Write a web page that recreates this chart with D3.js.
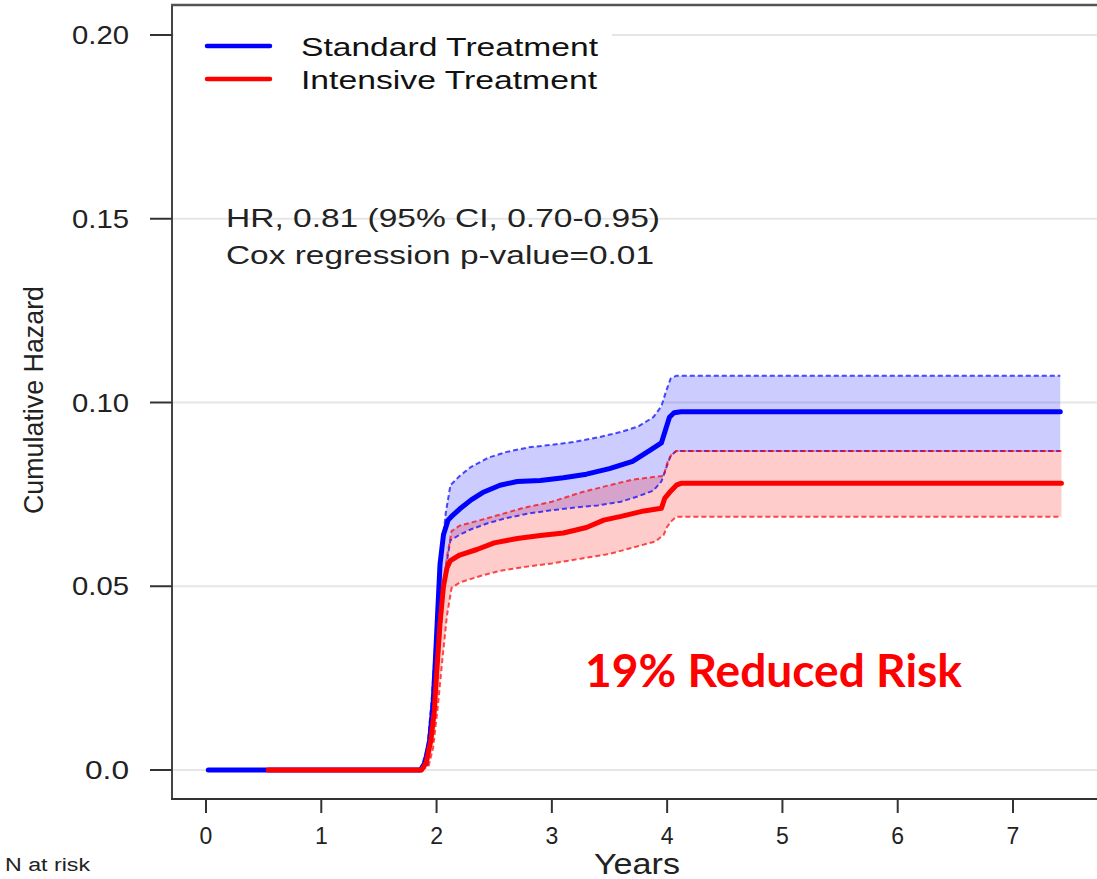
<!DOCTYPE html>
<html>
<head>
<meta charset="utf-8">
<script src="https://cdnjs.cloudflare.com/ajax/libs/d3/7.8.5/d3.min.js"></script>
<style>
html, body { margin: 0; padding: 0; background: #fff; }
svg { display: block; font-family: "Liberation Sans", Arial, sans-serif; }
</style>
</head>
<body>
<div id="chart"></div>
<script>
// tick labels
var xTicks = [0, 1, 2, 3, 4, 5, 6, 7]
var yTicks = [0, 0.05, 0.10, 0.15, 0.20]
var yTickLabels = ['0.0', '0.05', '0.10', '0.15', '0.20']

// standard treatment cumulative hazard
var stdTimes = [0.02, 1.86, 1.90, 1.94, 1.97, 1.99, 2.01, 2.03, 2.06, 2.10, 2.13, 2.2, 2.3, 2.4, 2.55, 2.7, 2.9, 3.1, 3.3, 3.5, 3.7, 3.85, 3.95, 3.98, 4.02, 4.06, 4.12, 7.41]
var stdHazard = [0, 0, 0.002, 0.008, 0.018, 0.030, 0.043, 0.056, 0.064, 0.068, 0.069, 0.071, 0.0735, 0.0755, 0.0775, 0.0785, 0.0788, 0.0795, 0.0805, 0.082, 0.084, 0.087, 0.089, 0.092, 0.096, 0.0972, 0.0975, 0.0975]
var stdBandTimes = [1.86, 1.92, 1.96, 2.00, 2.04, 2.08, 2.12, 2.2, 2.3, 2.45, 2.6, 2.8, 3.0, 3.2, 3.4, 3.6, 3.75, 3.88, 3.95, 3.99, 4.03, 4.08, 7.41]
var stdUpper = [0, 0.006, 0.02, 0.040, 0.058, 0.070, 0.0775, 0.080, 0.0825, 0.085, 0.0865, 0.0878, 0.0885, 0.0893, 0.0905, 0.092, 0.0935, 0.096, 0.099, 0.103, 0.1065, 0.1073, 0.1073]
var stdLower = [0, 0.001, 0.010, 0.022, 0.040, 0.055, 0.0625, 0.064, 0.0655, 0.0672, 0.0685, 0.0698, 0.0707, 0.0714, 0.072, 0.073, 0.0745, 0.076, 0.0785, 0.082, 0.0855, 0.0868, 0.0868]

// intensive treatment cumulative hazard
var intTimes = [0.54, 1.87, 1.91, 1.95, 1.98, 2.00, 2.03, 2.06, 2.09, 2.12, 2.2, 2.35, 2.5, 2.7, 2.9, 3.1, 3.3, 3.45, 3.6, 3.8, 3.95, 3.98, 4.02, 4.08, 4.12, 7.42]
var intHazard = [0, 0, 0.002, 0.008, 0.016, 0.026, 0.040, 0.050, 0.055, 0.057, 0.0585, 0.060, 0.0618, 0.063, 0.0638, 0.0645, 0.066, 0.068, 0.069, 0.0705, 0.0712, 0.074, 0.0755, 0.0775, 0.078, 0.078]
var intBandTimes = [1.87, 1.93, 1.97, 2.01, 2.05, 2.09, 2.13, 2.2, 2.38, 2.55, 2.75, 3.0, 3.25, 3.5, 3.7, 3.9, 3.97, 4.0, 4.04, 4.08, 7.42]
var intUpper = [0, 0.004, 0.013, 0.028, 0.045, 0.058, 0.065, 0.0665, 0.068, 0.0695, 0.0713, 0.073, 0.0755, 0.0775, 0.079, 0.0798, 0.080, 0.0835, 0.086, 0.0868, 0.0868]
var intLower = [0, 0.001, 0.006, 0.017, 0.030, 0.042, 0.0495, 0.051, 0.0528, 0.0542, 0.0552, 0.0562, 0.0575, 0.0588, 0.0605, 0.0622, 0.064, 0.0662, 0.0678, 0.0689, 0.0689]

var legendLabels = ['Standard Treatment', 'Intensive Treatment']
var colors = ['#0000ff', '#ff0000']

var W = 1097, H = 879
var frameLeft = 172, frameTop = 5, frameBottom = 799

var svg = d3.select('#chart').append('svg').attr('width', W).attr('height', H)

var x = d3.scaleLinear().domain([0, 7]).range([206, 1013])
var y = d3.scaleLinear().domain([0, 0.2]).range([770, 35])

// gridlines
svg.append('g').selectAll('line').data(yTicks).enter().append('line')
    .attr('x1', frameLeft).attr('x2', W)
    .attr('y1', function(d){ return y(d) }).attr('y2', function(d){ return y(d) })
    .attr('stroke', '#e6e6e6').attr('stroke-width', 2)

// zip helper
function pts(t, v) { return t.map(function(d, i){ return [d, v[i]] }) }

var area = d3.area()
    .x(function(d){ return x(d[0]) })
    .y0(function(d){ return y(d[1]) })
    .y1(function(d){ return y(d[2]) })
var line = d3.line()
    .x(function(d){ return x(d[0]) })
    .y(function(d){ return y(d[1]) })

var bands = [
    {t: stdBandTimes, lo: stdLower, hi: stdUpper, c: colors[0], fill: '#0000ff'},
    {t: intBandTimes, lo: intLower, hi: intUpper, c: colors[1], fill: '#ff0000'}
]
bands.forEach(function(b){
    var data = b.t.map(function(d, i){ return [d, b.lo[i], b.hi[i]] })
    svg.append('path').attr('d', area(data))
        .attr('fill', b.fill).attr('fill-opacity', 0.2).attr('stroke', 'none')
})
bands.forEach(function(b){
    [b.lo, b.hi].forEach(function(v){
        svg.append('path').attr('d', line(pts(b.t, v)))
            .attr('fill', 'none').attr('stroke', b.c).attr('stroke-opacity', 0.7)
            .attr('stroke-width', 2).attr('stroke-dasharray', '5,3')
    })
})

// main curves
svg.append('path').attr('d', line(pts(stdTimes, stdHazard)))
    .attr('fill', 'none').attr('stroke', colors[0]).attr('stroke-width', 5)
    .attr('stroke-linejoin', 'round').attr('stroke-linecap', 'round')
svg.append('path').attr('d', line(pts(intTimes, intHazard)))
    .attr('fill', 'none').attr('stroke', colors[1]).attr('stroke-width', 5)
    .attr('stroke-linejoin', 'round').attr('stroke-linecap', 'round')

// legend with white background over gridline
svg.append('rect').attr('x', frameLeft + 2).attr('y', 20).attr('width', 438).attr('height', 80).attr('fill', '#fff')
var lg = svg.append('g').selectAll('g').data(legendLabels).enter().append('g')
    .attr('transform', function(d, i){ return 'translate(0,' + (46 + i * 33) + ')' })
lg.append('line').attr('x1', 207).attr('x2', 270).attr('y1', 0).attr('y2', 0)
    .attr('stroke', function(d, i){ return colors[i] }).attr('stroke-width', 4.5).attr('stroke-linecap', 'round')
lg.append('text').attr('x', 301).attr('y', 10).text(function(d){ return d })
    .attr('font-size', 26).attr('fill', '#111')
    .attr('textLength', function(d, i){ return i == 0 ? 297 : 296 }).attr('lengthAdjust', 'spacingAndGlyphs')

// frame: left, top, bottom axis lines
svg.append('line').attr('x1', frameLeft).attr('x2', frameLeft).attr('y1', frameTop).attr('y2', frameBottom)
    .attr('stroke', '#444').attr('stroke-width', 2)
svg.append('line').attr('x1', frameLeft - 1).attr('x2', W).attr('y1', frameTop).attr('y2', frameTop)
    .attr('stroke', '#555').attr('stroke-width', 2.5)
svg.append('line').attr('x1', frameLeft - 1).attr('x2', W).attr('y1', frameBottom).attr('y2', frameBottom)
    .attr('stroke', '#333').attr('stroke-width', 2)

// y axis
var yAxis = svg.append('g')
yAxis.selectAll('line').data(yTicks).enter().append('line')
    .attr('x1', 150).attr('x2', frameLeft)
    .attr('y1', function(d){ return y(d) }).attr('y2', function(d){ return y(d) })
    .attr('stroke', '#333').attr('stroke-width', 2)
yAxis.selectAll('text').data(yTicks).enter().append('text')
    .attr('x', 129).attr('y', function(d){ return y(d) + 9 })
    .attr('text-anchor', 'end').attr('font-size', 25).attr('fill', '#222')
    .text(function(d, i){ return yTickLabels[i] })
    .attr('textLength', function(d, i){ return yTickLabels[i].length == 4 ? 57 : 44 }).attr('lengthAdjust', 'spacingAndGlyphs')

// x axis
var xAxis = svg.append('g')
xAxis.selectAll('line').data(xTicks).enter().append('line')
    .attr('x1', function(d){ return x(d) }).attr('x2', function(d){ return x(d) })
    .attr('y1', frameBottom).attr('y2', 813)
    .attr('stroke', '#333').attr('stroke-width', 2)
xAxis.selectAll('text').data(xTicks).enter().append('text')
    .attr('x', function(d){ return x(d) }).attr('y', 844)
    .attr('text-anchor', 'middle').attr('font-size', 23).attr('fill', '#222')
    .text(function(d){ return d })

// axis titles
svg.append('text').attr('transform', 'translate(43,400) rotate(-90)')
    .attr('text-anchor', 'middle').attr('font-size', 28).attr('fill', '#222')
    .attr('textLength', 228).attr('lengthAdjust', 'spacingAndGlyphs')
    .text('Cumulative Hazard')
svg.append('text').attr('x', 637).attr('y', 874).attr('text-anchor', 'middle')
    .attr('font-size', 30).attr('fill', '#222')
    .attr('textLength', 86).attr('lengthAdjust', 'spacingAndGlyphs')
    .text('Years')
svg.append('text').attr('x', 5).attr('y', 871).attr('font-size', 18).attr('fill', '#222')
    .attr('textLength', 85).attr('lengthAdjust', 'spacingAndGlyphs')
    .text('N at risk')

// annotations
svg.append('text').attr('x', 226).attr('y', 227).attr('font-size', 25).attr('fill', '#222')
    .attr('textLength', 434).attr('lengthAdjust', 'spacingAndGlyphs')
    .text('HR, 0.81 (95% CI, 0.70-0.95)')
svg.append('text').attr('x', 226).attr('y', 264).attr('font-size', 25).attr('fill', '#222')
    .attr('textLength', 428).attr('lengthAdjust', 'spacingAndGlyphs')
    .text('Cox regression p-value=0.01')
svg.append('text').attr('x', 585).attr('y', 687).attr('font-size', 46).attr('font-weight', 'bold')
    .style('font-family', 'Lato, "Open Sans", sans-serif').attr('fill', '#ff0000')
    .attr('textLength', 377).attr('lengthAdjust', 'spacingAndGlyphs')
    .text('19% Reduced Risk')
</script>
</body>
</html>
